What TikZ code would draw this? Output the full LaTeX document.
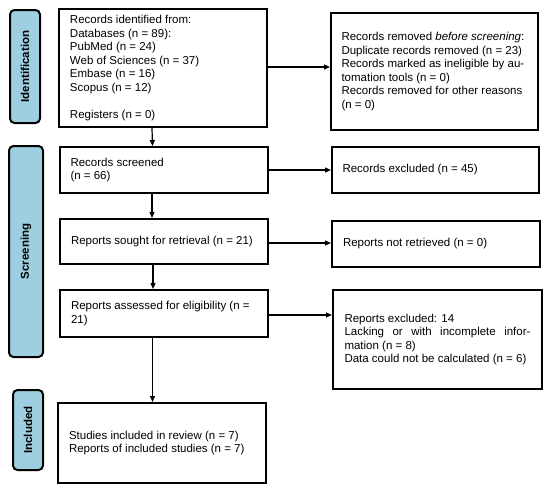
\documentclass[tikz,border=0pt]{standalone}
\usepackage{fontspec}
\setmainfont{Liberation Sans}
\usetikzlibrary{arrows.meta}
\definecolor{phase}{RGB}{157,207,224}
\tikzset{
  x=1pt,y=-1pt,
  box/.style={draw=black,line width=2pt,fill=white,minimum width=208pt,inner sep=0pt,
    font=\fontsize{11.5}{13.5}\selectfont},
  txt/.style={text width=186pt,align=left},
  jtxt/.style={text width=186pt,align=justify},
  phasebox/.style={draw=black,line width=2pt,fill=phase,rounded corners=4.5pt,inner sep=0pt},
  phasetext/.style={rotate=90,font=\fontsize{11.5}{13}\selectfont\bfseries},
  arr/.style={line width=1.2pt,-{Triangle[length=6pt,width=5pt]}}
}
\begin{document}
\begin{tikzpicture}
\useasboundingbox (0,0) rectangle (550,490);
% phase labels
\node[phasebox,minimum width=30pt,minimum height=113pt] (pid) at (25,66.5) {};
\node[phasetext] (pidt) at (pid.center) {Identification};
\node[phasebox,minimum width=34pt,minimum height=211pt] (psc) at (26,251.5) {};
\node[phasetext] (psct) at (psc.center) {Screening};
\node[phasebox,minimum width=30pt,minimum height=80pt] (pin) at (28,430) {};
\node[phasetext] (pint) at (pin.center) {Included};
% left column
\node[box,minimum height=118pt] (b1) at (163,68) {\begin{minipage}{186pt}\fontsize{11.5}{13.5}\selectfont
Records identified from:\\
Databases (n = 89):\\
PubMed (n = 24)\\
Web of Sciences (n = 37)\\
Embase (n = 16)\\
Scopus (n = 12)\\[13.5pt]
Registers (n = 0)\end{minipage}};
\node[box,minimum height=46pt] (b2) at (163.5,170) {\begin{minipage}{186pt}\fontsize{11.5}{13.5}\selectfont
Records screened\\
(n = 66)\end{minipage}};
\node[box,minimum height=45pt] (b3) at (164,241.5) {\begin{minipage}{186pt}\fontsize{11.5}{13.5}\selectfont
Reports sought for retrieval (n = 21)\end{minipage}};
\node[box,minimum height=47pt] (b4) at (164,313.5) {\begin{minipage}{186pt}\fontsize{11.5}{13.5}\selectfont
Reports assessed for eligibility (n =\\
21)\end{minipage}};
\node[box,minimum height=80pt] (b5) at (162,443) {\begin{minipage}{186pt}\fontsize{11.5}{13.5}\selectfont
Studies included in review (n = 7)\\
Reports of included studies (n = 7)\end{minipage}};
% right column
\node[box,minimum width=207pt,minimum height=117pt] (r1) at (434.5,71.5) {\begin{minipage}{186pt}\fontsize{11.5}{13.5}\selectfont
Records removed \emph{before screening}:\\
Duplicate records removed (n = 23)\\
Records marked as ineligible by au-\\
tomation tools (n = 0)\\
Records removed for other reasons\\
(n = 0)\end{minipage}};
\node[box,minimum width=207pt,minimum height=46pt] (r2) at (435.5,170) {\begin{minipage}{186pt}\fontsize{11.5}{13.5}\selectfont
Records excluded (n = 45)\end{minipage}};
\node[box,minimum width=208pt,minimum height=46pt] (r3) at (436,244) {\begin{minipage}{186pt}\fontsize{11.5}{13.5}\selectfont
Reports not retrieved (n = 0)\end{minipage}};
\node[box,minimum width=209pt,minimum height=99pt] (r4) at (437.5,339.5) {\begin{minipage}{186pt}\fontsize{11.5}{13.5}\selectfont
Reports excluded: 14\\
\hbox to 186pt{Lacking\hfil or\hfil with\hfil incomplete\hfil infor-}
mation (n = 8)\\
Data could not be calculated (n = 6)\end{minipage}};
% arrows
\draw[arr] (b1.east |- 0,67) -- (r1.west |- 0,67);
\draw[arr] (b2) -- (r2);
\draw[arr] (b3.east |- 0,243) -- (r3.west |- 0,243);
\draw[arr] (b4.east |- 0,315) -- (r4.west |- 0,315);
\draw[arr] ([xshift=-11pt]b1.south) -- ([xshift=-11pt]b2.north);
\draw[arr] ([xshift=-11.5pt]b2.south) -- ([xshift=-12pt]b3.north);
\draw[arr] ([xshift=-11pt]b3.south) -- ([xshift=-11pt]b4.north);
\draw[arr] ([xshift=-11.5pt]b4.south) -- ([xshift=-9.5pt]b5.north);
\end{tikzpicture}
\end{document}
